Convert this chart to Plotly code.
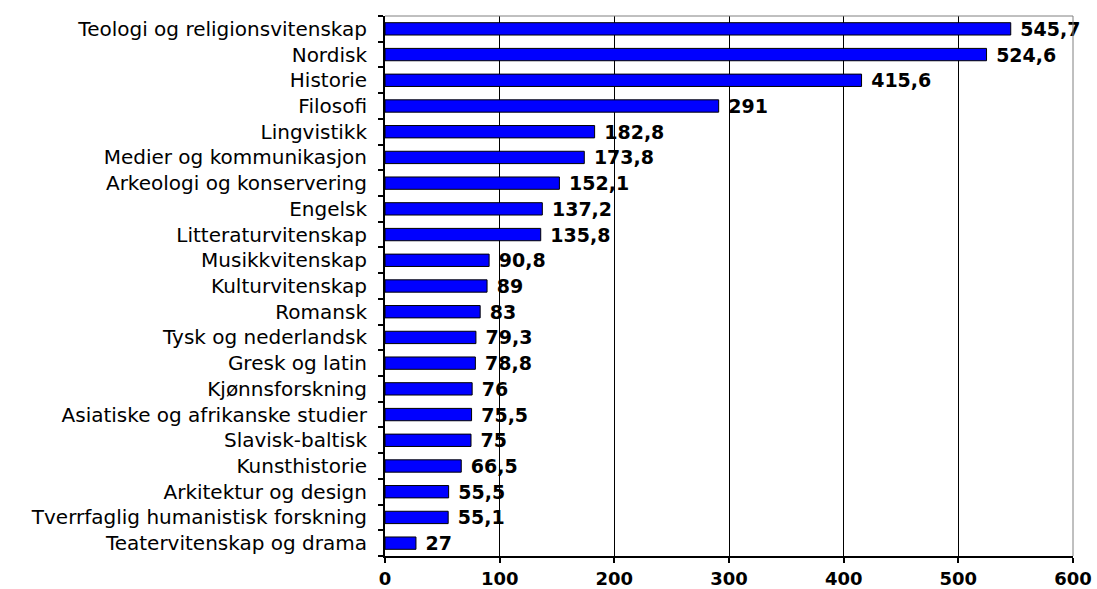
import plotly.graph_objects as go

categories = [
    "Teologi og religionsvitenskap", "Nordisk", "Historie", "Filosofi", "Lingvistikk",
    "Medier og kommunikasjon", "Arkeologi og konservering", "Engelsk", "Litteraturvitenskap",
    "Musikkvitenskap", "Kulturvitenskap", "Romansk", "Tysk og nederlandsk", "Gresk og latin",
    "Kjønnsforskning", "Asiatiske og afrikanske studier", "Slavisk-baltisk", "Kunsthistorie",
    "Arkitektur og design", "Tverrfaglig humanistisk forskning", "Teatervitenskap og drama",
]
values = [545.7, 524.6, 415.6, 291, 182.8, 173.8, 152.1, 137.2, 135.8, 90.8, 89, 83,
          79.3, 78.8, 76, 75.5, 75, 66.5, 55.5, 55.1, 27]
labels = [" " + ("%g" % v).replace(".", ",") for v in values]
x_ticks = [0, 100, 200, 300, 400, 500, 600]

fig = go.Figure(go.Bar(
    y=categories, x=values, orientation="h",
    marker=dict(color="#0000FF", line=dict(color="black", width=1)),
    text=labels, textposition="outside", cliponaxis=False, constraintext="none",
    textfont=dict(family="DejaVu Sans", size=19, color="black", weight="bold"),
    hoverinfo="skip",
))

fig.update_layout(
    width=1097, height=589,
    margin=dict(l=385, r=24, t=16, b=33),
    paper_bgcolor="white", plot_bgcolor="white",
    bargap=0.52, showlegend=False,
    font=dict(family="DejaVu Sans", color="black"),
    xaxis=dict(range=[0, 600], tickvals=x_ticks, ticktext=[str(t) for t in x_ticks],
               showgrid=True, gridcolor="black", gridwidth=1,
               showline=True, linecolor="black", linewidth=2,
               ticks="outside", ticklen=5, tickcolor="black", tickwidth=1.5,
               tickfont=dict(family="DejaVu Sans", size=18, color="black", weight="bold"),
               zeroline=False, automargin=False),
    yaxis=dict(categoryorder="array", categoryarray=categories[::-1], autorange=False,
               range=[-0.5, len(categories) - 0.5],
               showline=True, linecolor="black", linewidth=2,
               ticks="outside", ticklen=5, tickcolor="black", tickwidth=1.5,
               tickson="boundaries", ticklabelstandoff=12,
               tickfont=dict(family="DejaVu Sans", size=20, color="black"),
               showgrid=False, automargin=False),
)
fig.add_shape(type="line", xref="paper", yref="paper", x0=0, x1=1, y0=1, y1=1,
              line=dict(color="#808080", width=1))
fig.add_shape(type="line", xref="paper", yref="paper", x0=1, x1=1, y0=0, y1=1,
              line=dict(color="#808080", width=1))

fig.write_html("out.html", config={"displayModeBar": False},
               post_script="document.body.style.margin='0';")
